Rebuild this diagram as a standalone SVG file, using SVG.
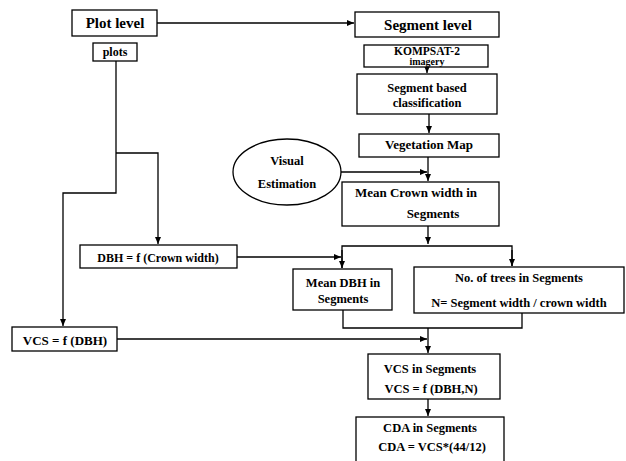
<svg xmlns="http://www.w3.org/2000/svg" width="626" height="461" viewBox="0 0 626 461">
<style>
.b{fill:#fff;stroke:#000;stroke-width:1.3}
.t{font-family:'Liberation Serif','Times New Roman',Times,serif;font-weight:bold;fill:#000;text-anchor:middle}
.c{fill:none;stroke:#000;stroke-width:1.3}
</style>
<defs>
<marker id="a" markerUnits="userSpaceOnUse" markerWidth="8" markerHeight="6" refX="7" refY="3" orient="auto">
<path d="M0,0 L7,3 L0,6 z" fill="#000"/>
</marker>
</defs>
<rect width="626" height="461" fill="#fff"/>
<g id="connectors">
<line class="c" x1="157" y1="23" x2="354" y2="23" marker-end="url(#a)"/>
<line class="c" x1="427" y1="67" x2="427" y2="73" marker-end="url(#a)"/>
<line class="c" x1="429" y1="114" x2="429" y2="133" marker-end="url(#a)"/>
<line class="c" x1="428" y1="157" x2="428" y2="181" marker-end="url(#a)"/>
<line class="c" x1="340" y1="172" x2="427" y2="172" marker-end="url(#a)"/>
<line class="c" x1="428" y1="226" x2="428" y2="244" marker-end="url(#a)"/>
<polyline class="c" points="342,268 342,246 512,246 512,266"/>
<line class="c" x1="342" y1="250" x2="342" y2="268" marker-end="url(#a)"/>
<line class="c" x1="512" y1="250" x2="512" y2="266" marker-end="url(#a)"/>
<line class="c" x1="237" y1="257" x2="341" y2="257" marker-end="url(#a)"/>
<polyline class="c" points="343,310 343,328 522,328 522,313"/>
<line class="c" x1="428" y1="328" x2="428" y2="353" marker-end="url(#a)"/>
<line class="c" x1="117" y1="339" x2="427" y2="339" marker-end="url(#a)"/>
<line class="c" x1="428" y1="399" x2="428" y2="416" marker-end="url(#a)"/>
<polyline class="c" points="116,61 116,193 63,193 63,326" marker-end="url(#a)"/>
<polyline class="c" points="116,153 158,153 158,244" marker-end="url(#a)"/>
</g>
<g id="plot-level"><rect class="b" x="72" y="10" width="85" height="26"/><text class="t" x="115" y="28" font-size="15">Plot level</text></g>
<g id="plots"><rect class="b" x="93" y="43" width="44" height="18"/><text class="t" x="115" y="56" font-size="12">plots</text></g>
<g id="segment-level"><rect class="b" x="355" y="12" width="144" height="25"/><text class="t" x="428" y="30" font-size="15">Segment level</text></g>
<g id="kompsat"><rect class="b" x="364" y="45" width="124" height="22"/><text class="t" x="427" y="55" font-size="11.5">KOMPSAT-2</text><text class="t" x="427" y="65" font-size="10">imagery</text></g>
<g id="segment-classification"><rect class="b" x="357" y="74" width="140" height="40"/><text class="t" x="427" y="92" font-size="12.5">Segment based</text><text class="t" x="427" y="107" font-size="12.5">classification</text></g>
<g id="vegetation-map"><rect class="b" x="359" y="134" width="140" height="23"/><text class="t" x="429" y="149" font-size="13">Vegetation Map</text></g>
<g id="visual-estimation"><ellipse class="b" cx="287" cy="172" rx="54" ry="33"/><text class="t" x="287" y="165" font-size="12.5">Visual</text><text class="t" x="287" y="188" font-size="12.5">Estimation</text></g>
<g id="mean-crown"><rect class="b" x="342" y="182" width="157" height="44"/><text class="t" x="416" y="197" font-size="13">Mean Crown width in</text><text class="t" x="433" y="218" font-size="13">Segments</text></g>
<g id="dbh-crown"><rect class="b" x="80" y="245" width="157" height="23"/><text class="t" x="158" y="262" font-size="12">DBH = f (Crown width)</text></g>
<g id="mean-dbh"><rect class="b" x="293" y="269" width="99" height="41"/><text class="t" x="343" y="287" font-size="12.5">Mean DBH in</text><text class="t" x="343" y="303" font-size="12.5">Segments</text></g>
<g id="no-trees"><rect class="b" x="414" y="267" width="210" height="46"/><text class="t" x="519" y="282" font-size="12.5">No. of trees in Segments</text><text class="t" x="519" y="307" font-size="12.5">N= Segment width / crown width</text></g>
<g id="vcs-dbh"><rect class="b" x="12" y="327" width="105" height="24"/><text class="t" x="65" y="345" font-size="13">VCS = f (DBH)</text></g>
<g id="vcs-segments"><rect class="b" x="368" y="354" width="132" height="45"/><text class="t" x="430" y="373" font-size="12.5">VCS in Segments</text><text class="t" x="431" y="393" font-size="12.5">VCS = f (DBH,N)</text></g>
<g id="cda-segments"><rect class="b" x="356" y="417" width="148" height="50"/><text class="t" x="430" y="432" font-size="12.5">CDA in Segments</text><text class="t" x="432" y="451" font-size="12.5">CDA = VCS*(44/12)</text></g>
</svg>
